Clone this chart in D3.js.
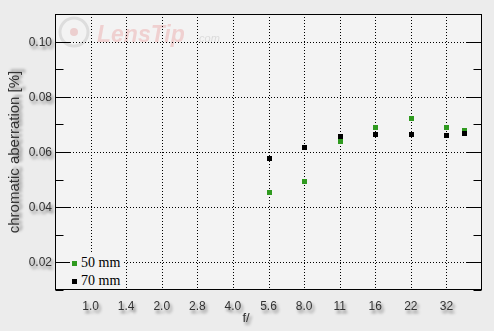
<!DOCTYPE html>
<html>
<head>
<meta charset="utf-8">
<script src="https://cdn.jsdelivr.net/npm/d3@7"></script>
<style>
  body { margin: 0; background: #ececec; }
  svg { display: block; }
</style>
</head>
<body>
<div id="chart"></div>
<script>
// f-stop tick labels, placed one per stop
var stopLabels = ["1.0", "1.4", "2.0", "2.8", "4.0", "5.6", "8.0", "11", "16", "22", "32"];
// measured apertures, as stop index (1 = f/1.0, 11 = f/32)
var measuredStops = [6, 7, 8, 9, 10, 11, 11.5];
var ca50 = [0.0455, 0.0495, 0.0639, 0.0691, 0.0724, 0.0691, 0.0681];
var ca70 = [0.0578, 0.0618, 0.0658, 0.0667, 0.0667, 0.0663, 0.0669];
var yTicks = [0.02, 0.04, 0.06, 0.08, 0.10];
var yMinor = [0.01, 0.03, 0.05, 0.07, 0.09];

var width = 494, height = 331;
var plotLeft = 55, plotRight = 482, plotTop = 14, plotBottom = 290;

var svg = d3.select("#chart").append("svg")
    .attr("width", width)
    .attr("height", height);

// soft drop shadow for the labels
var defs = svg.append("defs");
var f = defs.append("filter").attr("id", "shadow")
    .attr("x", "-20%").attr("y", "-30%").attr("width", "160%").attr("height", "180%");
f.append("feGaussianBlur").attr("in", "SourceAlpha").attr("stdDeviation", 1.8).attr("result", "b");
f.append("feOffset").attr("in", "b").attr("dx", 2).attr("dy", 3).attr("result", "o");
f.append("feComponentTransfer").attr("in", "o").attr("result", "s")
    .append("feFuncA").attr("type", "linear").attr("slope", 0.5);
var fm = f.append("feMerge");
fm.append("feMergeNode").attr("in", "s");
fm.append("feMergeNode").attr("in", "SourceGraphic");

svg.append("rect").attr("width", width).attr("height", height).attr("fill", "#ececec");
svg.append("rect")
    .attr("x", plotLeft).attr("y", plotTop)
    .attr("width", plotRight - plotLeft).attr("height", plotBottom - plotTop)
    .attr("fill", "#f3f3f3");

var x = d3.scaleLinear().domain([0, 12]).range([plotLeft, plotRight]);
var y = d3.scaleLinear().domain([0.01, 0.11]).range([plotBottom, plotTop]);

// watermark
var wm = svg.append("g").attr("opacity", 0.6);
wm.append("circle").attr("cx", 74).attr("cy", 32).attr("r", 14)
    .attr("fill", "none").attr("stroke", "#cfcfcf").attr("stroke-width", 3);
wm.append("circle").attr("cx", 74).attr("cy", 32).attr("r", 4).attr("fill", "#e8b8b8");
wm.append("text").attr("x", 97).attr("y", 42)
    .style("font-family", "Liberation Sans, Arial, sans-serif")
    .style("font-size", "23px").style("font-weight", "bold").style("font-style", "italic")
    .attr("fill", "#eeb9b9").text("LensTip");
wm.append("text").attr("x", 196).attr("y", 42)
    .style("font-family", "Liberation Sans, Arial, sans-serif")
    .style("font-size", "11px").style("font-style", "italic")
    .attr("fill", "#cccccc").text(".com");

// dotted grid
svg.append("g").selectAll("line").data(stopLabels).enter().append("line")
    .attr("x1", (d, i) => Math.round(x(i + 1)) + 0.5).attr("x2", (d, i) => Math.round(x(i + 1)) + 0.5)
    .attr("y1", plotTop).attr("y2", plotBottom)
    .attr("stroke", "#000").attr("stroke-dasharray", "1,2");
svg.append("g").selectAll("line").data(yTicks).enter().append("line")
    .attr("x1", plotLeft + 15).attr("x2", plotRight - 15)
    .attr("y1", d => Math.round(y(d)) + 0.5).attr("y2", d => Math.round(y(d)) + 0.5)
    .attr("stroke", "#000").attr("stroke-dasharray", "1,2");

// y axis, ticks on both sides pointing inward
function inwardTicks(axis, xPos, values, size) {
    svg.append("g")
        .attr("transform", "translate(" + xPos + ",0)")
        .call(axis(y).tickValues(values).tickSize(size).tickFormat(""))
        .call(g => g.select(".domain").remove())
        .call(g => g.selectAll(".tick").attr("transform", d => "translate(0," + (Math.round(y(d)) + 0.5) + ")"));
}
inwardTicks(d3.axisRight, plotLeft + 0.5, yTicks, 15);
inwardTicks(d3.axisRight, plotLeft + 0.5, yMinor, 8);
inwardTicks(d3.axisLeft, plotRight - 0.5, yTicks, 15);
inwardTicks(d3.axisLeft, plotRight - 0.5, yMinor, 8);

// frame
svg.append("rect")
    .attr("x", plotLeft + 0.5).attr("y", plotTop + 0.5)
    .attr("width", plotRight - plotLeft - 1).attr("height", plotBottom - plotTop - 1)
    .attr("fill", "none").attr("stroke", "#000");

// tick labels
var labelFont = "Liberation Sans, Arial, sans-serif";
svg.append("g").attr("filter", "url(#shadow)")
    .selectAll("text").data(yTicks).enter().append("text")
    .attr("x", plotLeft - 3).attr("y", d => y(d) + 4)
    .attr("text-anchor", "end")
    .style("font-family", labelFont).style("font-size", "12px")
    .attr("fill", "#333").text(d => d.toFixed(2));
svg.append("g").attr("filter", "url(#shadow)")
    .selectAll("text").data(stopLabels).enter().append("text")
    .attr("x", (d, i) => x(i + 1)).attr("y", 310)
    .attr("text-anchor", "middle")
    .style("font-family", labelFont).style("font-size", "12px")
    .attr("fill", "#333").text(d => d);

svg.append("text").attr("filter", "url(#shadow)")
    .attr("x", 246).attr("y", 322).attr("text-anchor", "middle")
    .style("font-family", labelFont).style("font-size", "13px")
    .attr("fill", "#333").text("f/");
svg.append("text").attr("filter", "url(#shadow)")
    .attr("transform", "translate(19," + ((plotTop + plotBottom) / 2) + ") rotate(-90)")
    .attr("text-anchor", "middle")
    .style("font-family", labelFont).style("font-size", "15px")
    .attr("fill", "#333").text("chromatic aberration [%]");

// data points
var series = [
    { name: "50 mm", values: ca50, color: "#2f9a1f" },
    { name: "70 mm", values: ca70, color: "#000000" }
];
var s = 5;
series.forEach(function (ser) {
    svg.append("g").selectAll("rect").data(ser.values).enter().append("rect")
        .attr("x", (d, i) => Math.round(x(measuredStops[i])) - 2)
        .attr("y", d => Math.round(y(d)) - 2)
        .attr("width", s).attr("height", s)
        .attr("fill", ser.color);
});

// legend, on a plain box that hides the grid behind it
svg.append("rect")
    .attr("x", 70).attr("y", 253)
    .attr("width", 53).attr("height", plotBottom - 1 - 253)
    .attr("fill", "#f3f3f3");
var legend = svg.selectAll(".legend").data(series).enter().append("g")
    .attr("class", "legend")
    .attr("transform", (d, i) => "translate(74," + (263 + i * 18) + ")");
legend.append("rect")
    .attr("x", -2).attr("y", -2).attr("width", s).attr("height", s)
    .attr("fill", d => d.color);
legend.append("text")
    .attr("x", 7).attr("y", 4)
    .style("font-family", "Liberation Serif, Times New Roman, serif")
    .style("font-size", "14px")
    .attr("fill", "#000").text(d => d.name);
</script>
</body>
</html>
